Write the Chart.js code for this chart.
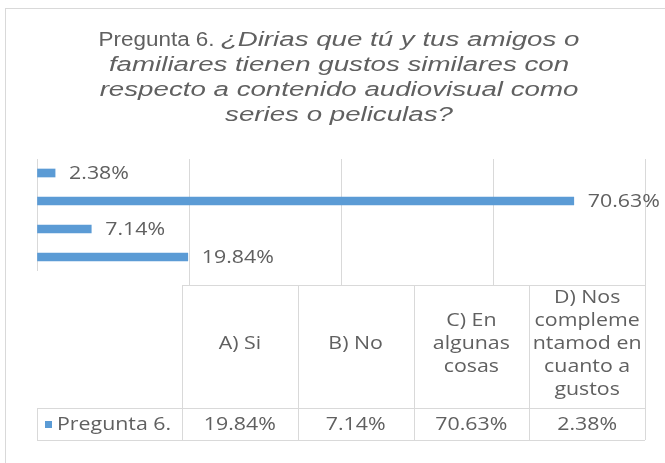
<!DOCTYPE html>
<html>
<head>
<meta charset="utf-8">
<script src="https://cdn.jsdelivr.net/npm/chart.js@4.4.1/dist/chart.umd.min.js"></script>
<style>
  html, body { margin: 0; padding: 0; background: #fff; }
  #wrap { position: relative; width: 665px; height: 463px; overflow: hidden; }
  #frame { position: absolute; left: 5px; top: 8px; width: 700px; height: 500px;
           border-top: 1px solid #d9d9d9; border-left: 1px solid #d9d9d9; }
  canvas { position: absolute; left: 0; top: 0; }
</style>
</head>
<body>
<div id="wrap">
  <div id="frame"></div>
  <canvas id="myChart" width="665" height="463"></canvas>
</div>
<script>
let titleLead = "Pregunta 6. ";
let titleLines = ["¿Dirias que tú y tus amigos o", "familiares tienen gustos similares con", "respecto a contenido audiovisual como", "series o peliculas?"];
let seriesName = "Pregunta 6.";
let categories = ["A) Si", "B) No", "C) En algunas cosas", "D) Nos complementamod en cuanto a gustos"];
let headerLines = [["A) Si"], ["B) No"], ["C) En", "algunas", "cosas"], ["D) Nos", "compleme", "ntamod en", "cuanto a", "gustos"]];
let values = [19.84, 7.14, 70.63, 2.38];
let xTicks = [0, 20, 40, 60, 80];

let textFont = '17.5px "Open Sans", sans-serif';
let textStretch = 1.22;
let gray = '#606060';
let lineGray = '#d9d9d9';
let blue = '#5b9bd5';

// the picture is stretched sideways, so text gets a horizontal scale
function drawText(ctx, text, x, y, align, sx) {
  let w = ctx.measureText(text).width * sx;
  let x0 = x;
  if (align === 'center') x0 = x - w / 2;
  if (align === 'right') x0 = x - w;
  ctx.save();
  ctx.translate(x0, y);
  ctx.scale(sx, 1);
  ctx.textAlign = 'left';
  ctx.fillText(text, 0, 0);
  ctx.restore();
  return w;
}

let titlePlugin = {
  id: 'bigTitle',
  afterDraw(chart) {
    let ctx = chart.ctx;
    let cx = 339;
    let normal = '19.5px "Liberation Sans", Arial, sans-serif';
    let italic = 'italic 19.5px "Liberation Sans", Arial, sans-serif';
    let sxN = 1.15, sxI = 1.42;
    ctx.save();
    ctx.fillStyle = gray;
    ctx.textBaseline = 'alphabetic';
    titleLines.forEach(function(line, i) {
      let y = 46 + i * 25;
      ctx.font = italic;
      let wi = ctx.measureText(line).width * sxI;
      let wn = 0;
      if (i === 0) {
        ctx.font = normal;
        wn = ctx.measureText(titleLead).width * sxN;
      }
      let x = cx - (wn + wi) / 2;
      if (i === 0) {
        drawText(ctx, titleLead, x, y, 'left', sxN);
      }
      ctx.font = italic;
      drawText(ctx, line, x + wn, y, 'left', sxI);
    });
    ctx.restore();
  }
};

// data labels right of each bar
let labelPlugin = {
  id: 'labels',
  afterDatasetsDraw(chart) {
    let ctx = chart.ctx;
    let meta = chart.getDatasetMeta(0);
    ctx.save();
    ctx.font = textFont;
    ctx.fillStyle = gray;
    ctx.textBaseline = 'middle';
    meta.data.forEach(function(bar, i) {
      drawText(ctx, values[i].toFixed(2) + '%', bar.x + 14, bar.y + 1, 'left', textStretch);
    });
    ctx.restore();
  }
};

// data table under the plot
let tablePlugin = {
  id: 'table',
  afterDraw(chart) {
    let ctx = chart.ctx;
    let area = chart.chartArea;
    let xs = chart.scales.x;
    let top = 285, mid = 408, bottom = 440;
    let left = area.left, first = area.left + 145;
    let colW = (area.right - first) / categories.length;

    ctx.save();
    ctx.strokeStyle = lineGray;
    ctx.lineWidth = 1;

    // grid lines carried down to the table
    ctx.beginPath();
    xTicks.slice(1).forEach(function(t) {
      let x = Math.round(xs.getPixelForValue(t)) + 0.5;
      ctx.moveTo(x, area.bottom);
      ctx.lineTo(x, top);
    });
    ctx.stroke();

    ctx.beginPath();
    ctx.moveTo(first, top + 0.5); ctx.lineTo(area.right, top + 0.5);
    ctx.moveTo(left, mid + 0.5); ctx.lineTo(area.right, mid + 0.5);
    ctx.moveTo(left, bottom + 0.5); ctx.lineTo(area.right, bottom + 0.5);
    ctx.moveTo(left + 0.5, mid); ctx.lineTo(left + 0.5, bottom);
    for (let i = 0; i <= categories.length; i++) {
      let x = Math.round(first + i * colW) + 0.5;
      ctx.moveTo(x, top); ctx.lineTo(x, bottom);
    }
    ctx.stroke();

    ctx.font = textFont;
    ctx.fillStyle = gray;
    ctx.textBaseline = 'middle';
    let lh = 22.8;
    headerLines.forEach(function(lines, i) {
      let cx = first + (i + 0.5) * colW;
      let cy = (top + mid) / 2 - 2.5;
      let y0 = cy - (lines.length - 1) * lh / 2;
      lines.forEach(function(s, j) {
        drawText(ctx, s, cx, y0 + j * lh, 'center', textStretch);
      });
      drawText(ctx, values[i].toFixed(2) + '%', cx, (mid + bottom) / 2 + 1, 'center', textStretch);
    });

    ctx.fillStyle = blue;
    ctx.fillRect(left + 8, (mid + bottom) / 2 - 3, 7, 7);
    ctx.fillStyle = gray;
    drawText(ctx, seriesName, left + 20, (mid + bottom) / 2 + 1, 'left', textStretch);
    ctx.restore();
  }
};

let ctx = document.getElementById("myChart").getContext("2d");
let myChart = new Chart(ctx, {
  type: 'bar',
  data: {
    labels: categories,
    datasets: [
      {
        label: seriesName,
        data: values,
        backgroundColor: blue,
        barThickness: 8
      }
    ]
  },
  options: {
    indexAxis: 'y',
    responsive: false,
    animation: false,
    layout: { padding: { left: 37, right: 20, top: 159, bottom: 192 } },
    plugins: {
      legend: { display: false },
      title: { display: false },
      tooltip: { enabled: false }
    },
    scales: {
      x: {
        min: xTicks[0],
        max: xTicks[xTicks.length - 1],
        afterBuildTicks: function(axis) {
          axis.ticks = xTicks.map(function(v) { return { value: v }; });
        },
        ticks: { display: false },
        grid: { color: lineGray, drawTicks: false },
        border: { display: false }
      },
      y: {
        reverse: true,
        display: false
      }
    }
  },
  plugins: [titlePlugin, labelPlugin, tablePlugin]
});
</script>
</body>
</html>
